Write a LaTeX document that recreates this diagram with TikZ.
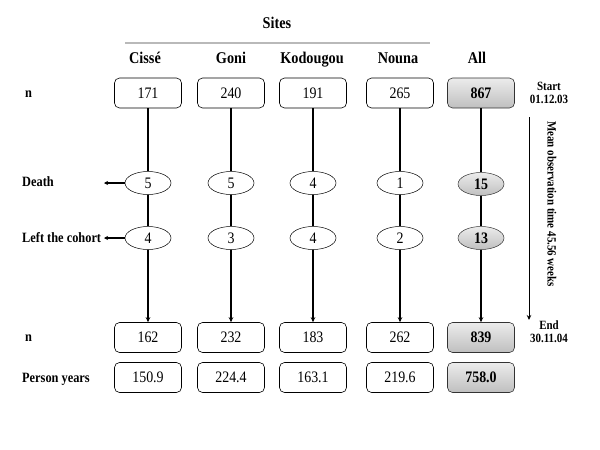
\documentclass[tikz,border=0pt]{standalone}
\usepackage{fontspec}
\setmainfont[FakeStretch=0.87]{Liberation Serif}
\usetikzlibrary{arrows.meta,shapes.geometric}

\begin{document}
\begin{tikzpicture}[x=1pt,y=-1pt,
  box/.style={draw,rounded corners=5pt,minimum width=67pt,minimum height=30pt,inner sep=0pt,line width=0.6pt,font=\fontsize{16}{18}\selectfont},
  allbox/.style={box,draw=black!80,top color=gray!15,bottom color=gray!50,font=\fontsize{16}{18}\selectfont\bfseries},
  oval/.style={draw,ellipse,minimum width=46pt,minimum height=23pt,inner sep=0pt,fill=white,line width=0.5pt,font=\fontsize{16}{18}\selectfont},
  alloval/.style={oval,draw=black!80,top color=gray!15,bottom color=gray!50,font=\fontsize{16}{18}\selectfont\bfseries},
  label/.style={anchor=base west,inner sep=0pt,font=\fontsize{14.2}{16}\selectfont\bfseries},
  head/.style={anchor=base,inner sep=0pt,font=\fontsize{16.4}{18}\selectfont\bfseries},
  note/.style={align=center,font=\fontsize{12.6}{13}\selectfont\bfseries},
  flow/.style={line width=1.4pt,-{Stealth[length=5pt,width=4.5pt]}},
  link/.style={line width=1.4pt},
  side/.style={line width=1.2pt,-{Stealth[length=4pt,width=4pt]}}]
\useasboundingbox (0,0) rectangle (600,450);

% headings
\node[head] (sites) at (277,28) {Sites};
\coordinate (rulel) at (125,43);
\coordinate (ruler) at (430,43);
\draw[gray!55,line width=1.3pt] (rulel) -- (ruler);

% row labels
\node[label] (n1) at (25,97) {n};
\node[label] (death) at (22,186.5) {Death};
\node[label] (left) at (22,242.5) {Left the cohort};
\node[label] (n2) at (25,341.5) {n};
\node[label] (py) at (22,382) {Person years};

% sites
\foreach \i/\x/\hx/\site/\a/\b/\c/\d/\e in {
  1/148/145/Ciss\'e/171/5/4/162/150.9,
  2/231/231/Goni/240/5/3/232/224.4,
  3/313/312/Kodougou/191/4/4/183/163.1,
  4/400/398/Nouna/265/1/2/262/219.6}{
  \node[head] (h\i) at (\hx,63) {\site};
  \node[box] (top\i) at (\x,93) {\a};
  \node[oval] (d\i) at (\x,183) {\b};
  \node[oval] (l\i) at (\x,238) {\c};
  \node[box] (bot\i) at (\x,337.5) {\d};
  \node[box] (yrs\i) at (\x,377.5) {\e};
  \draw[link] (top\i) -- (d\i);
  \draw[link] (d\i) -- (l\i);
  \draw[flow] (l\i) -- (bot\i);
}

% all sites
\node[head] (h5) at (477,63) {All};
\node[allbox] (top5) at (481,93) {867};
\node[alloval] (d5) at (481,184) {15};
\node[alloval] (l5) at (481,238) {13};
\node[allbox] (bot5) at (481,337.5) {839};
\node[allbox] (yrs5) at (481,377.5) {758.0};
\draw[link] (top5) -- (d5);
\draw[link] (d5) -- (l5);
\draw[flow] (l5) -- (bot5);

% drop outs
\coordinate (dtip) at (104,183);
\coordinate (ltip) at (104,238);
\draw[side] (d1) -- (dtip);
\draw[side] (l1) -- (ltip);

% time line
\node[note] (start) at (549,93) {Start\\01.12.03};
\node[note] (end) at (549,332) {End\\30.11.04};
\coordinate (tstart) at (529,117);
\coordinate (tend) at (529,320);
\draw[line width=1pt,-{Stealth[length=5pt,width=4.5pt]}] (tstart) -- (tend);
\node[note,rotate=-90] (mean) at (552,204) {Mean observation time 45.56 weeks};
\end{tikzpicture}
\end{document}
